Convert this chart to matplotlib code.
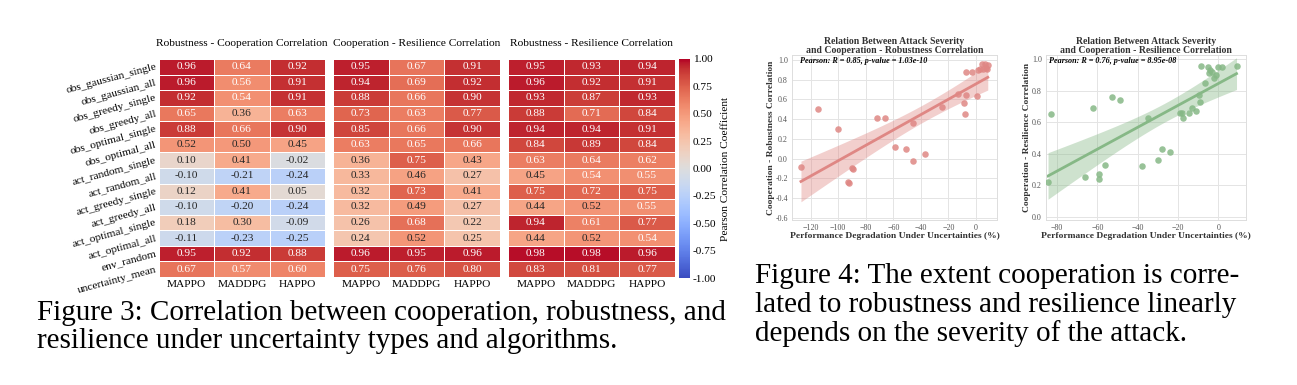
import numpy as np
import matplotlib
matplotlib.use("Agg")
import matplotlib.pyplot as plt
import seaborn as sns

W, H = 1297, 385

# ---- heatmap data ----
UNCERTAINTIES = ["obs_gaussian_single", "obs_gaussian_all", "obs_greedy_single",
                 "obs_greedy_all", "obs_optimal_single", "obs_optimal_all",
                 "act_random_single", "act_random_all", "act_greedy_single",
                 "act_greedy_all", "act_optimal_single", "act_optimal_all",
                 "env_random", "uncertainty_mean"]
ALGOS = ["MAPPO", "MADDPG", "HAPPO"]

ROB_COOP = [[0.96, 0.64, 0.92], [0.96, 0.56, 0.91], [0.92, 0.54, 0.91],
            [0.65, 0.36, 0.63], [0.88, 0.66, 0.90], [0.52, 0.50, 0.45],
            [0.10, 0.41, -0.02], [-0.10, -0.21, -0.24], [0.12, 0.41, 0.05],
            [-0.10, -0.20, -0.24], [0.18, 0.30, -0.09], [-0.11, -0.23, -0.25],
            [0.95, 0.92, 0.88], [0.67, 0.57, 0.60]]
COOP_RES = [[0.95, 0.67, 0.91], [0.94, 0.69, 0.92], [0.88, 0.66, 0.90],
            [0.73, 0.63, 0.77], [0.85, 0.66, 0.90], [0.63, 0.65, 0.66],
            [0.36, 0.75, 0.43], [0.33, 0.46, 0.27], [0.32, 0.73, 0.41],
            [0.32, 0.49, 0.27], [0.26, 0.68, 0.22], [0.24, 0.52, 0.25],
            [0.96, 0.95, 0.96], [0.75, 0.76, 0.80]]
ROB_RES = [[0.95, 0.93, 0.94], [0.96, 0.92, 0.91], [0.93, 0.87, 0.93],
           [0.88, 0.71, 0.84], [0.94, 0.94, 0.91], [0.84, 0.89, 0.84],
           [0.63, 0.64, 0.62], [0.45, 0.54, 0.55], [0.75, 0.72, 0.75],
           [0.44, 0.52, 0.55], [0.94, 0.61, 0.77], [0.44, 0.52, 0.54],
           [0.98, 0.98, 0.96], [0.83, 0.81, 0.77]]
HEAT_TITLES = ["Robustness - Cooperation Correlation",
               "Cooperation - Resilience Correlation",
               "Robustness - Resilience Correlation"]

# ---- scatter data: severity (%) vs correlation ----
SEV_ROB = [-127, -115, -100, -90, -89, -93, -92, -72, -66, -59, -51, -46, -46, -37,
           -25, -13, -9, -8, -7, -7, -3, 1, 1.5, 3, 4, 5, 6.5, 7.5, 8, 8.5]
CORR_ROB = [-0.09, 0.50, 0.30, -0.10, -0.11, -0.24, -0.25, 0.41, 0.41, 0.12, 0.10, -0.02, 0.36, 0.05,
            0.52, 0.65, 0.56, 0.45, 0.64, 0.88, 0.88, 0.63, 0.90, 0.91, 0.96, 0.91, 0.96, 0.92, 0.91, 0.95]
SEV_RES = [-84.5, -83, -66, -62, -59, -59, -56, -53, -49, -38, -35, -30, -28, -24,
           -19, -18, -17.5, -14.5, -13, -11, -9, -9.5, -8.5, -6.5, -5, -4.5, -4, -3,
           -2, -1, 0, 2, 9]
CORR_RES = [0.22, 0.65, 0.25, 0.69, 0.27, 0.24, 0.33, 0.76, 0.74, 0.32, 0.63, 0.36, 0.43, 0.41,
            0.66, 0.66, 0.63, 0.66, 0.69, 0.67, 0.73, 0.77, 0.96, 0.85, 0.95, 0.91, 0.93, 0.92,
            0.88, 0.90, 0.95, 0.95, 0.96]

CAPTION_3 = ["Figure 3: Correlation between cooperation, robustness, and",
             "resilience under uncertainty types and algorithms."]
CAPTION_4 = ["Figure 4: The extent cooperation is corre-",
             "lated to robustness and resilience linearly",
             "depends on the severity of the attack."]

plt.rcParams["font.family"] = "serif"
plt.rcParams["font.serif"] = ["Liberation Serif", "DejaVu Serif"]

fig = plt.figure(figsize=(W / 100, H / 100), dpi=100)


def px_axes(x0, y0, x1, y1):
    return fig.add_axes([x0 / W, 1 - y1 / H, (x1 - x0) / W, (y1 - y0) / H])


# ---- Figure 3: three heatmaps ----
HFS = 8.2
heat_boxes = [(159, 59, 325, 277), (333, 59, 500, 277), (508, 59, 675, 277)]
cax = px_axes(679, 59, 690, 278)
for i, (data, title, box) in enumerate(zip([ROB_COOP, COOP_RES, ROB_RES], HEAT_TITLES, heat_boxes)):
    ax = px_axes(*box)
    last = i == 2
    sns.heatmap(np.array(data), ax=ax, cmap="coolwarm", vmin=-1, vmax=1,
                annot=True, fmt=".2f", annot_kws={"size": HFS},
                linewidths=0.5, linecolor="white",
                xticklabels=ALGOS, yticklabels=UNCERTAINTIES if i == 0 else False,
                cbar=last, cbar_ax=cax if last else None,
                cbar_kws={"ticks": np.arange(-1, 1.01, 0.25), "format": "%.2f"} if last else {})
    ax.set_title(title, fontsize=HFS, pad=9)
    ax.tick_params(length=0, pad=2, labelsize=HFS)
    ax.set_xticklabels(ALGOS, rotation=0)
    if i == 0:
        ax.set_yticklabels(UNCERTAINTIES, rotation=15, ha="right", va="center",
                           rotation_mode="anchor", fontsize=HFS)

cax.tick_params(labelsize=HFS, length=0, pad=2)
cax.set_ylabel("Pearson Correlation Coefficient", fontsize=HFS, labelpad=3)
for sp in cax.spines.values():
    sp.set_visible(False)

# ---- Figure 4: regression scatter plots ----
T975 = 2.04


def reg_panel(box, xs, ys, color, title, ylabel, note, xlim, ylim, xticks, yticks, note_x):
    ax = px_axes(*box)
    x = np.array(xs, dtype=float)
    y = np.array(ys, dtype=float)
    slope, icpt = np.polyfit(x, y, 1)
    grid = np.linspace(x.min(), x.max(), 100)
    fit = slope * grid + icpt
    resid = y - (slope * x + icpt)
    s = np.sqrt(np.sum(resid ** 2) / (len(x) - 2))
    se = s * np.sqrt(1 / len(x) + (grid - x.mean()) ** 2 / np.sum((x - x.mean()) ** 2))
    ax.fill_between(grid, fit - T975 * se, fit + T975 * se, color=color, alpha=0.4, lw=0)
    ax.plot(grid, fit, color=color, lw=2)
    ax.scatter(x, y, s=22, color=color, alpha=0.85, lw=0, zorder=3)
    ax.set_xlim(*xlim)
    ax.set_ylim(*ylim)
    ax.set_xticks(xticks)
    ax.set_yticks(yticks)
    ax.set_yticklabels([f"{v:.1f}" for v in yticks])
    ax.grid(True, color="#e4e4e4", lw=0.7)
    ax.set_axisbelow(True)
    for sp in ax.spines.values():
        sp.set_color("#dddddd")
        sp.set_linewidth(0.7)
    ax.tick_params(length=0, labelsize=5.8, labelcolor="#555555", pad=3)
    ax.set_title(title, fontsize=7.0, fontweight="bold", color="#333333", pad=1.5, linespacing=0.95)
    ax.set_xlabel("Performance Degradation Under Uncertainties (%)", fontsize=6.8,
                  fontweight="bold", color="#333333", labelpad=0)
    ax.set_ylabel(ylabel, fontsize=6.8, fontweight="bold", color="#333333", labelpad=0.5)
    ax.text(note_x, 0.963, note, transform=ax.transAxes, fontsize=5.9, fontweight="bold",
            fontstyle="italic", va="center", ha="left")


reg_panel((792, 55, 997, 220), SEV_ROB, CORR_ROB, "#df8784",
          "Relation Between Attack Severity\nand Cooperation - Robustness Correlation",
          "Cooperation - Robustness Correlation",
          "Pearson: R = 0.85, p-value = 1.03e-10",
          (-133.5, 15.2), (-0.623, 1.05), np.arange(-120, 1, 20), np.arange(-0.6, 1.01, 0.2), 0.04)
reg_panel((1046, 55, 1246, 220), SEV_RES, CORR_RES, "#86b886",
          "Relation Between Attack Severity\nand Cooperation - Resilience Correlation",
          "Cooperation - Resilience Correlation",
          "Pearson: R = 0.76, p-value = 8.95e-08",
          (-85.5, 13.7), (-0.021, 1.027), np.arange(-80, 1, 20), np.arange(0, 1.01, 0.2), 0.015)

# ---- captions ----
CAP_SIZE = 21
for k, line in enumerate(CAPTION_3):
    fig.text(37 / W, 1 - (320 + 28 * k) / H, line, fontsize=CAP_SIZE, va="baseline", ha="left")
for k, line in enumerate(CAPTION_4):
    fig.text(755 / W, 1 - (283 + 29 * k) / H, line, fontsize=CAP_SIZE, va="baseline", ha="left")

fig.savefig("out.png", dpi=100)
